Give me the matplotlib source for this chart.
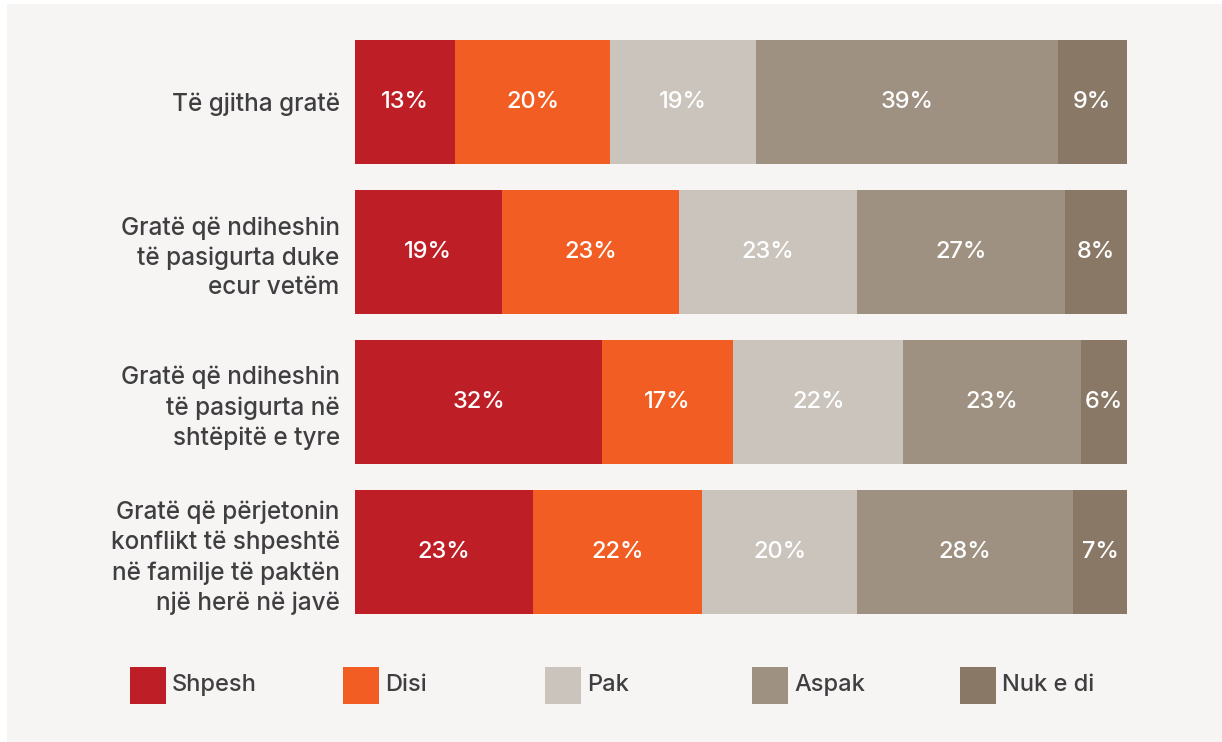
import matplotlib.pyplot as plt
from matplotlib.patches import Rectangle

plt.rcParams['font.family'] = ['Inter', 'DejaVu Sans']
plt.rcParams['font.weight'] = 'medium'

# data
groups = ["Të gjitha gratë",
          "Gratë që ndiheshin\ntë pasigurta duke\necur vetëm",
          "Gratë që ndiheshin\ntë pasigurta në\nshtëpitë e tyre",
          "Gratë që përjetonin\nkonflikt të shpeshtë\nnë familje të paktën\nnjë herë në javë"]
answers = ["Shpesh", "Disi", "Pak", "Aspak", "Nuk e di"]
shpesh = [13, 19, 32, 23]
disi = [20, 23, 17, 22]
pak = [19, 23, 22, 20]
aspak = [39, 27, 23, 28]
nuk_e_di = [9, 8, 6, 7]
series = [shpesh, disi, pak, aspak, nuk_e_di]

colors = ["#be1e25", "#f15d22", "#cbc4bc", "#9f9181", "#8a7866"]
text_col = "#3f3f41"
bg = "#f6f5f3"

W, H = 1222, 742
fig = plt.figure(figsize=(W / 100, H / 100), dpi=100, facecolor="white")
# grey panel with thin white margin on left/top
fig.patches.append(Rectangle((7 / W, 0), 1, 1 - 4 / H, transform=fig.transFigure,
                             facecolor=bg, edgecolor="none", zorder=-10))

ax = fig.add_axes([355 / W, 1 - 627 / H, 772 / W, 600 / H])
ax.set_facecolor("none")

ypos = range(len(groups))
left = [0] * len(groups)
for vals, col in zip(series, colors):
    bars = ax.barh(ypos, vals, left=left, height=124 / 150, color=col,
                   edgecolor="none")
    for b, v in zip(bars, vals):
        ax.text(b.get_x() + b.get_width() / 2, b.get_y() + b.get_height() / 2,
                f"{v}%", ha="center", va="center", color="white", fontsize=17)
    left = [l + v for l, v in zip(left, vals)]

ax.set_xlim(0, 100)
ax.set_ylim(3.5, -0.5)
ax.set_yticks(list(ypos))
ax.set_yticklabels(groups, fontsize=17.5, color=text_col, linespacing=1.36,
                   ha="right")
ax.tick_params(axis="y", length=0, pad=11)
ax.set_xticks([])
for s in ax.spines.values():
    s.set_visible(False)

# legend
leg_x = [130, 343, 545, 752, 960]
for x, name, col in zip(leg_x, answers, colors):
    fig.patches.append(Rectangle((x / W, 1 - 704 / H), 36 / W, 37 / H,
                                 transform=fig.transFigure, facecolor=col,
                                 edgecolor="none"))
    fig.text((x + 42) / W, 1 - 685 / H, name, ha="left", va="center",
             fontsize=17, color=text_col)

fig.savefig("out.png", dpi=100, facecolor="white")
